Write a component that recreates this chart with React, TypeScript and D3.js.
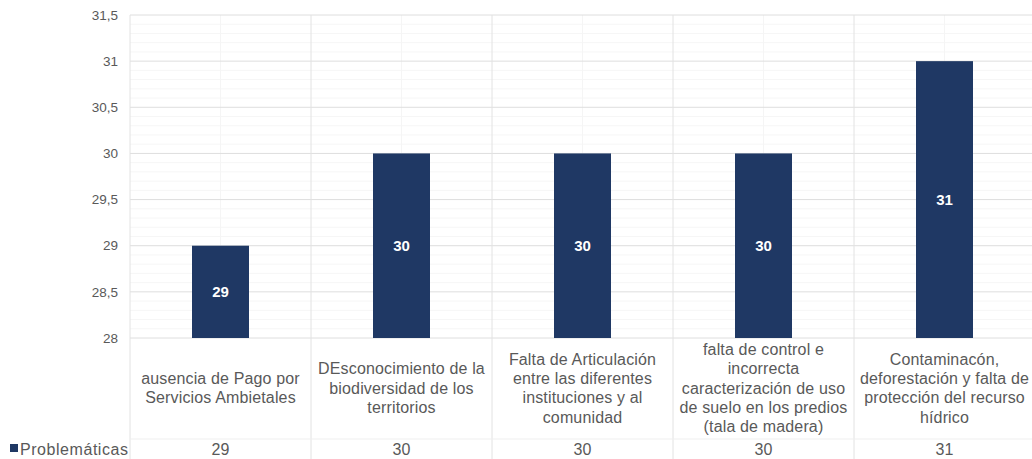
import * as d3 from 'd3';

const categories: string[][] = [
  ['ausencia de Pago por', 'Servicios Ambietales'],
  ['DEsconocimiento de la', 'biodiversidad de los', 'territorios'],
  ['Falta de Articulación', 'entre las diferentes', 'instituciones y al', 'comunidad'],
  ['falta de control e', 'incorrecta', 'caracterización de uso', 'de suelo en los predios', '(tala de madera)'],
  ['Contaminacón,', 'deforestación y falta de', 'protección del recurso', 'hídrico'],
];
const values = [29, 30, 30, 30, 31];
const seriesName = 'Problemáticas';
const yTicks = [28, 28.5, 29, 29.5, 30, 30.5, 31, 31.5];

const W = 1032;
const H = 459;
const left = 130;
const right = 1035;
const top = 15;
const bottom = 338;
const tableLine = 439;
const font = '"Liberation Sans", Arial, sans-serif';
const textColor = '#595959';
const barColor = '#1f3864';

export default function App() {
  const keys = categories.map((_, i) => String(i));
  const x = d3.scaleBand<string>().domain(keys).range([left, right]).padding(0);
  const y = d3.scaleLinear().domain([28, 31.5]).range([bottom, top]);
  const bw = x.bandwidth();
  const barW = 57;
  const minor = d3.range(28, 31.5, 0.1).filter((v) => Math.abs(v * 2 - Math.round(v * 2)) > 0.01);
  const fmt = (v: number) => String(v).replace('.', ',');
  const lineH = 19.3;

  return (
    <svg width={W} height={H} style={{ position: 'absolute', left: 0, top: 0, background: '#fff' }}>
      {/* minor grid */}
      {minor.map((v) => (
        <line key={'m' + v} x1={left} x2={W} y1={y(v)} y2={y(v)} stroke="#f6f6f6" strokeWidth={1} />
      ))}
      {keys.map((k) => (
        <line key={'mv' + k} x1={x(k)! + bw / 2} x2={x(k)! + bw / 2} y1={top} y2={bottom} stroke="#f5f5f5" strokeWidth={1} />
      ))}
      {/* major grid */}
      {yTicks.map((v) => (
        <line key={'g' + v} x1={left} x2={W} y1={y(v)} y2={y(v)} stroke="#dedede" strokeWidth={1} />
      ))}
      {keys.map((k) => (
        <line key={'v' + k} x1={x(k)!} x2={x(k)!} y1={top} y2={H} stroke="#e2e2e2" strokeWidth={1} />
      ))}
      <line x1={left} x2={W} y1={tableLine} y2={tableLine} stroke="#efefef" strokeWidth={1} />

      {/* y tick labels */}
      {yTicks.map((v) => (
        <text key={'t' + v} x={118} y={y(v)} dy="0.35em" textAnchor="end" fontFamily={font} fontSize={13.5} fill={textColor}>
          {fmt(v)}
        </text>
      ))}

      {/* bars */}
      {values.map((v, i) => {
        const cx = x(keys[i])! + bw / 2;
        return (
          <g key={'b' + i}>
            <rect x={cx - barW / 2} y={y(v)} width={barW} height={y(28) - y(v)} fill={barColor} />
            <text x={cx} y={(y(v) + y(28)) / 2} dy="0.35em" textAnchor="middle" fontFamily={font} fontSize={15} fontWeight="bold" fill="#fff">
              {v}
            </text>
          </g>
        );
      })}

      {/* category labels */}
      {categories.map((lines, i) => {
        const cx = x(keys[i])! + bw / 2;
        const cy = 388;
        const start = cy - ((lines.length - 1) * lineH) / 2;
        return (
          <text key={'c' + i} textAnchor="middle" fontFamily={font} fontSize={16} letterSpacing={0.15} fill={textColor}>
            {lines.map((l, j) => (
              <tspan key={j} x={cx} y={start + j * lineH} dy="0.35em">
                {l}
              </tspan>
            ))}
          </text>
        );
      })}

      {/* data table row */}
      <rect x={10} y={444} width={8} height={8} fill={barColor} />
      <text x={20} y={449} dy="0.35em" fontFamily={font} fontSize={16} letterSpacing={0.55} fill={textColor}>
        {seriesName}
      </text>
      {values.map((v, i) => (
        <text key={'d' + i} x={x(keys[i])! + bw / 2} y={449} dy="0.35em" textAnchor="middle" fontFamily={font} fontSize={16} fill={textColor}>
          {v}
        </text>
      ))}
    </svg>
  );
}
